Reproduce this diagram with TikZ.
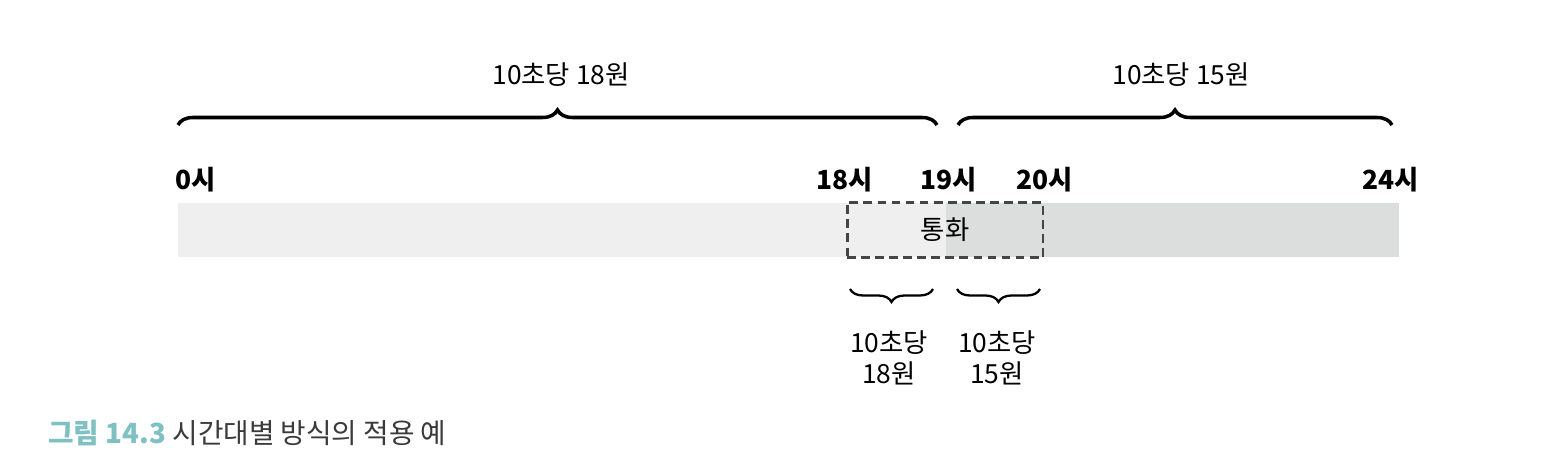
\documentclass[tikz,border=0pt]{standalone}
\usepackage{fontspec}
\setmainfont{Noto Sans CJK KR}
\usetikzlibrary{positioning, decorations.pathreplacing}
\definecolor{barlight}{HTML}{EFEFEF}
\definecolor{bardark}{HTML}{DCDEDD}
\definecolor{capteal}{HTML}{7FC0C2}
\definecolor{capgray}{HTML}{3A3A3A}
\definecolor{boxline}{HTML}{454545}

\begin{document}
\begin{tikzpicture}[x=0.02cm, y=-0.02cm,
      hour/.style={inner sep=0pt, font=\fontsize{15}{18}\selectfont\bfseries},
      rate/.style={inner sep=0pt, align=center, font=\fontsize{15}{17.6}\selectfont},
      bigbrace/.style={decorate, decoration={brace, amplitude=0.3cm}, line width=2pt},
      smallbrace/.style={decorate, decoration={brace, amplitude=0.26cm, mirror}, line width=1.3pt},
      callbox/.style={draw=boxline, line width=1.7pt, dash pattern=on 5pt off 3pt, minimum width=3.92cm, minimum height=1.1cm, font=\fontsize{15}{17}\selectfont}
    ]
    \useasboundingbox (0,0) rectangle (1548,472);

    % time bar
    \fill[barlight] (178,203) rectangle (946,257);
    \fill[bardark]  (946,203) rectangle (1399,257);
    \node[callbox] (call) at (945,230) {통화};

    % hours
    \node[hour] (h0)  at (196,180)  {0시};
    \node[hour] (h18) at (845,180)  {18시};
    \node[hour] (h19) at (949,180)  {19시};
    \node[hour] (h20) at (1045,180) {20시};
    \node[hour] (h24) at (1391,180) {24시};

    % day and night rates
    \coordinate (dayL)   at (178,125);
    \coordinate (dayR)   at (937,125);
    \coordinate (nightL) at (958,125);
    \coordinate (nightR) at (1392,125);
    \draw[bigbrace] (dayL)   -- (dayR);
    \draw[bigbrace] (nightL) -- (nightR);
    \node[rate] (day)   at (561,75)  {10초당 18원};
    \node[rate] (night) at (1181,75) {10초당 15원};

    % rates of the call
    \coordinate (earlyL) at (850,289);
    \coordinate (earlyR) at (933,289);
    \coordinate (lateL)  at (957,289);
    \coordinate (lateR)  at (1040,289);
    \draw[smallbrace] (earlyL) -- (earlyR);
    \draw[smallbrace] (lateL)  -- (lateR);
    \node[rate] (early) at (889,358) {10초당\\18원};
    \node[rate] (late)  at (997,358) {10초당\\15원};

    \node[anchor=west, inner sep=0pt, font=\fontsize{15.8}{18}\selectfont] (caption) at (48,433)
      {\textcolor{capteal}{\bfseries 그림 14.3} \textcolor{capgray}{시간대별 방식의 적용 예}};
  \end{tikzpicture}
\end{document}
